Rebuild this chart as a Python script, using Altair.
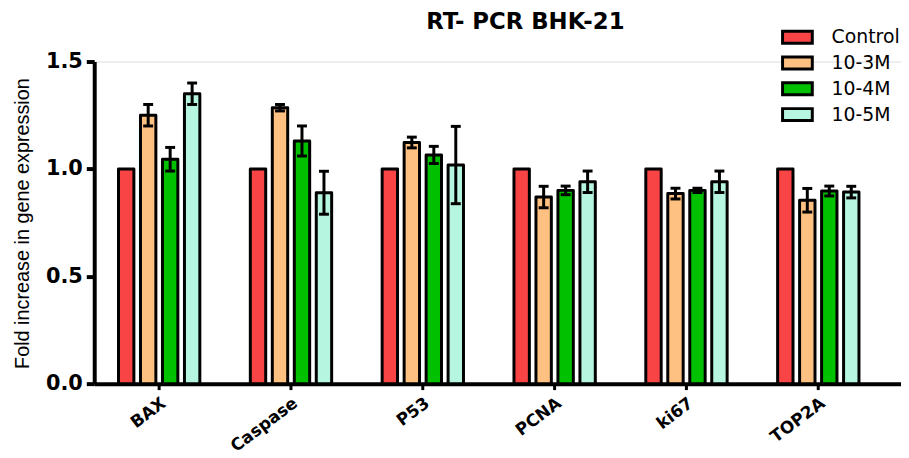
import altair as alt
import pandas as pd

title_text = ["RT- PCR BHK-21"]
genes = ["BAX", "Caspase", "P53", "PCNA", "ki67", "TOP2A"]
groups = ["Control", "10-3M", "10-4M", "10-5M"]
colors = ["#F94446", "#FFC182", "#00C000", "#B6F5DF"]

control = [1.0, 1.0, 1.0, 1.0, 1.0, 1.0]
control_err = [0.0, 0.0, 0.0, 0.0, 0.0, 0.0]
m3 = [1.25, 1.285, 1.123, 0.869, 0.885, 0.854]
m3_err = [0.05, 0.015, 0.025, 0.05, 0.025, 0.055]
m4 = [1.045, 1.13, 1.065, 0.90, 0.90, 0.897]
m4_err = [0.055, 0.07, 0.04, 0.02, 0.01, 0.023]
m5 = [1.35, 0.889, 1.018, 0.94, 0.94, 0.892]
m5_err = [0.05, 0.10, 0.18, 0.05, 0.05, 0.027]

rows = []
for g, vals, errs in zip(groups, [control, m3, m4, m5], [control_err, m3_err, m4_err, m5_err]):
    for gene, v, e in zip(genes, vals, errs):
        rows.append({"gene": gene, "group": g, "value": v, "err": e, "lo": v - e, "hi": v + e})
df = pd.DataFrame(rows)

x_enc = alt.X("gene:N", sort=genes, title=None,
              scale=alt.Scale(paddingInner=0.383, paddingOuter=0.2515, align=0.366),
              axis=alt.Axis(labelAngle=-37, labelFont="DejaVu Sans", labelFontWeight="bold",
                            labelFontSize=17, labelColor="black", labelPadding=5,
                            domainColor="black", domainWidth=4, tickColor="black",
                            tickWidth=3, tickSize=6))
xo_enc = alt.XOffset("group:N", sort=groups,
                     scale=alt.Scale(domain=groups, paddingInner=0.3, paddingOuter=0))

y_scale = alt.Scale(domain=[0, 1.5], nice=False)
y_axis = alt.Axis(values=[0, 0.5, 1.0, 1.5], format=".1f", grid=False,
                  title="Fold increase in gene expression",
                  titleFont="Liberation Sans", titleFontSize=20, titleFontWeight="normal",
                  titleColor="black", titleX=-72, titleY=163, titleBaseline="middle",
                  titleAngle=270,
                  labelFont="DejaVu Sans", labelFontWeight="bold", labelFontSize=21,
                  labelColor="black", labelPadding=4,
                  domainColor="black", domainWidth=4, tickColor="black",
                  tickWidth=4, tickSize=8)

bars = alt.Chart(df).mark_bar(stroke="black", strokeWidth=3, strokeJoin="round").encode(
    x=x_enc,
    xOffset=xo_enc,
    y=alt.Y("value:Q", scale=y_scale, axis=y_axis),
    fill=alt.Fill("group:N", sort=groups,
                  scale=alt.Scale(domain=groups, range=colors),
                  legend=alt.Legend(title=None, orient="none", legendX=700, legendY=-34,
                                    symbolType="M-2,-0.8H2V0.8H-2Z", symbolSize=225,
                                    symbolStrokeColor="black", symbolStrokeWidth=3,
                                    symbolOpacity=1,
                                    labelFont="DejaVu Sans", labelFontSize=19,
                                    labelColor="black", labelOffset=25, rowPadding=1,
                                    padding=0)),
)

errdf = df[df["err"] > 0]
rules = alt.Chart(errdf).mark_rule(color="black", strokeWidth=3).encode(
    x=alt.X("gene:N", sort=genes),
    xOffset=alt.XOffset("group:N", sort=groups),
    y=alt.Y("lo:Q", scale=y_scale),
    y2="hi:Q",
)
caps_hi = alt.Chart(errdf).mark_tick(color="black", thickness=3, size=10, opacity=1).encode(
    x=alt.X("gene:N", sort=genes),
    xOffset=alt.XOffset("group:N", sort=groups),
    y=alt.Y("hi:Q", scale=y_scale),
)
caps_lo = alt.Chart(errdf).mark_tick(color="black", thickness=3, size=10, opacity=1).encode(
    x=alt.X("gene:N", sort=genes),
    xOffset=alt.XOffset("group:N", sort=groups),
    y=alt.Y("lo:Q", scale=y_scale),
)

title_mark = alt.Chart(pd.DataFrame({"t": title_text})).mark_text(
    font="DejaVu Sans", fontSize=23, fontWeight="bold", color="black",
    align="center", baseline="alphabetic",
).encode(
    text="t:N",
    x=alt.value(435),
    y=alt.value(-33),
)

chart = alt.layer(bars, rules, caps_lo, caps_hi, title_mark).properties(
    width=814, height=325,
    autosize=alt.AutoSizeParams(type="none"),
    padding={"left": 87, "top": 52, "right": 0, "bottom": 73},
).configure_view(stroke=None).configure(background="white")

chart.save("out.html", embed_options={"renderer": "svg", "actions": False})
